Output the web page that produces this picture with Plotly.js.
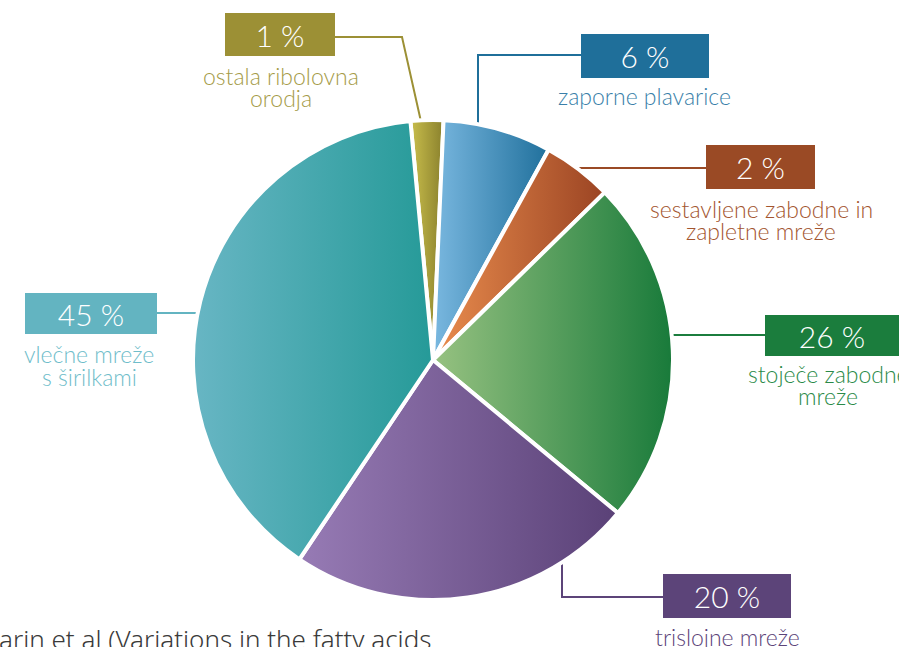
<!DOCTYPE html>
<html>
<head>
<meta charset="utf-8">
<script src="https://cdn.plot.ly/plotly-3.0.1.min.js"></script>
<style>
  html, body { margin: 0; padding: 0; background: #ffffff; overflow: hidden; }
  #chart { width: 899px; height: 647px; }
</style>
</head>
<body>
<div id="chart"></div>
<script>
// ---------- data ----------
const categories = [
  'ostala ribolovna orodja',
  'zaporne plavarice',
  'sestavljene zabodne in zapletne mreže',
  'stoječe zabodne mreže',
  'trislojne mreže',
  'vlečne mreže s širilkami'
];
// slice shares as drawn in the picture (measured from the slice angles)
const sliceValues = [2.2, 7.3, 4.7, 23.3, 23.4, 39.1];
// percentages printed in the label boxes
const percentLabels = ['1 %', '6 %', '2 %', '26 %', '20 %', '45 %'];
const labelLines = [
  ['ostala ribolovna', 'orodja'],
  ['zaporne plavarice'],
  ['sestavljene zabodne in', 'zapletne mreže'],
  ['stoječe zabodne', 'mreže'],
  ['trislojne mreže'],
  ['vlečne mreže', 's širilkami']
];
const footnoteText = 'arin et al (Variations in the fatty acids';

// ---------- styles ----------
const boxColors   = ['#9c9035', '#1f6f9a', '#9a4a25', '#1b7d3d', '#5c4479', '#63b4c1'];
const textColors  = ['#a59b48', '#3a7fa9', '#a3552f', '#2a8a48', '#5c4479', '#6fbdca'];
const sliceMid    = ['#a89d3c', '#4a92bf', '#c76a38', '#5a9d5c', '#7a5f98', '#46a8ae'];
const sliceLight  = ['#c9be4c', '#7ab8e0', '#ea8d4e', '#97c281', '#977bb5', '#68b6c4'];
const sliceDark   = ['#8a812d', '#20709c', '#9b4423', '#187a3a', '#5a4177', '#259a98'];

// ---------- label layout (pixel positions in the 899x647 frame) ----------
const W = 899, H = 647;
const px = x => x / W;
const py = y => 1 - y / H;
const boxPos = [
  {cx: 280, cy: 34,  w: 110, h: 43},
  {cx: 645, cy: 56,  w: 128, h: 44},
  {cx: 760, cy: 167, w: 109, h: 44},
  {cx: 832, cy: 335, w: 134, h: 41},
  {cx: 727, cy: 596, w: 128, h: 44},
  {cx: 91,  cy: 313, w: 132, h: 41}
];
const linePos = [
  [[281, 76], [281, 98]],
  [[644, 96]],
  [[761, 209], [761, 231]],
  [[828, 374], [828, 396]],
  [[727, 637]],
  [[89, 354], [89, 377]]
];
const leaderPaths = [
  [[335, 37], [402, 37], [424, 135]],
  [[581, 55], [478, 55], [478, 135]],
  [[706, 168], [565, 168]],
  [[765, 335], [660, 335]],
  [[663, 597], [562, 597], [562, 550]],
  [[157, 313], [210, 313]]
];

const labelFont = 'Lato, "Open Sans", "DejaVu Sans", sans-serif';

const annotations = [];
boxPos.forEach((b, i) => {
  annotations.push({
    xref: 'paper', yref: 'paper', x: px(b.cx), y: py(b.cy),
    xanchor: 'center', yanchor: 'middle', showarrow: false,
    text: percentLabels[i], width: b.w, height: b.h,
    bgcolor: boxColors[i], borderpad: 0, borderwidth: 0,
    align: 'center', valign: 'middle',
    font: {family: labelFont, size: 30, color: '#ffffff', weight: 300}
  });
  labelLines[i].forEach((t, j) => {
    const p = linePos[i][j];
    annotations.push({
      xref: 'paper', yref: 'paper', x: px(p[0]), y: py(p[1]),
      xanchor: 'center', yanchor: 'middle', showarrow: false,
      text: t,
      font: {family: labelFont, size: 23, color: textColors[i], weight: 300}
    });
  });
});
annotations.push({
  xref: 'paper', yref: 'paper', x: px(-3), y: py(639),
  xanchor: 'left', yanchor: 'middle', showarrow: false,
  text: footnoteText,
  font: {family: '"Noto Sans", "Open Sans", sans-serif', size: 26, color: '#3a3a3a', weight: 300}
});

const shapes = leaderPaths.map((pts, i) => ({
  type: 'path', xref: 'paper', yref: 'paper', layer: 'below',
  path: pts.map((p, k) => (k === 0 ? 'M' : 'L') + px(p[0]) + ',' + py(p[1])).join(' '),
  line: {color: boxColors[i], width: 2}
}));

// pie geometry
const cx = 433, cy = 360, r = 240;

const data = [{
  type: 'pie',
  labels: categories,
  values: sliceValues,
  sort: false,
  direction: 'clockwise',
  rotation: -5.4,
  textinfo: 'none',
  hoverinfo: 'skip',
  marker: {colors: sliceMid, line: {color: '#ffffff', width: 4}},
  domain: {x: [px(cx - r), px(cx + r)], y: [py(cy + r), py(cy - r)]}
}];

const layout = {
  width: W, height: H,
  margin: {l: 0, r: 0, t: 0, b: 0},
  paper_bgcolor: '#ffffff',
  plot_bgcolor: '#ffffff',
  showlegend: false,
  annotations: annotations,
  shapes: shapes
};

Plotly.newPlot('chart', data, layout, {staticPlot: true, displayModeBar: false}).then(gd => {
  const NS = 'http://www.w3.org/2000/svg';
  const svg = gd.querySelector('svg.main-svg');
  let defs = svg.querySelector('defs');
  if (!defs) { defs = document.createElementNS(NS, 'defs'); svg.insertBefore(defs, svg.firstChild); }
  gd.querySelectorAll('g.slice path.surface').forEach((p, i) => {
    const lg = document.createElementNS(NS, 'linearGradient');
    lg.setAttribute('id', 'sliceGrad' + i);
    lg.setAttribute('x1', '0'); lg.setAttribute('y1', '0');
    lg.setAttribute('x2', '1'); lg.setAttribute('y2', '0');
    [[0, sliceLight[i]], [1, sliceDark[i]]].forEach(([o, c]) => {
      const s = document.createElementNS(NS, 'stop');
      s.setAttribute('offset', String(o));
      s.setAttribute('stop-color', c);
      lg.appendChild(s);
    });
    defs.appendChild(lg);
    p.style.fill = 'url(#sliceGrad' + i + ')';
  });
});
</script>
</body>
</html>
